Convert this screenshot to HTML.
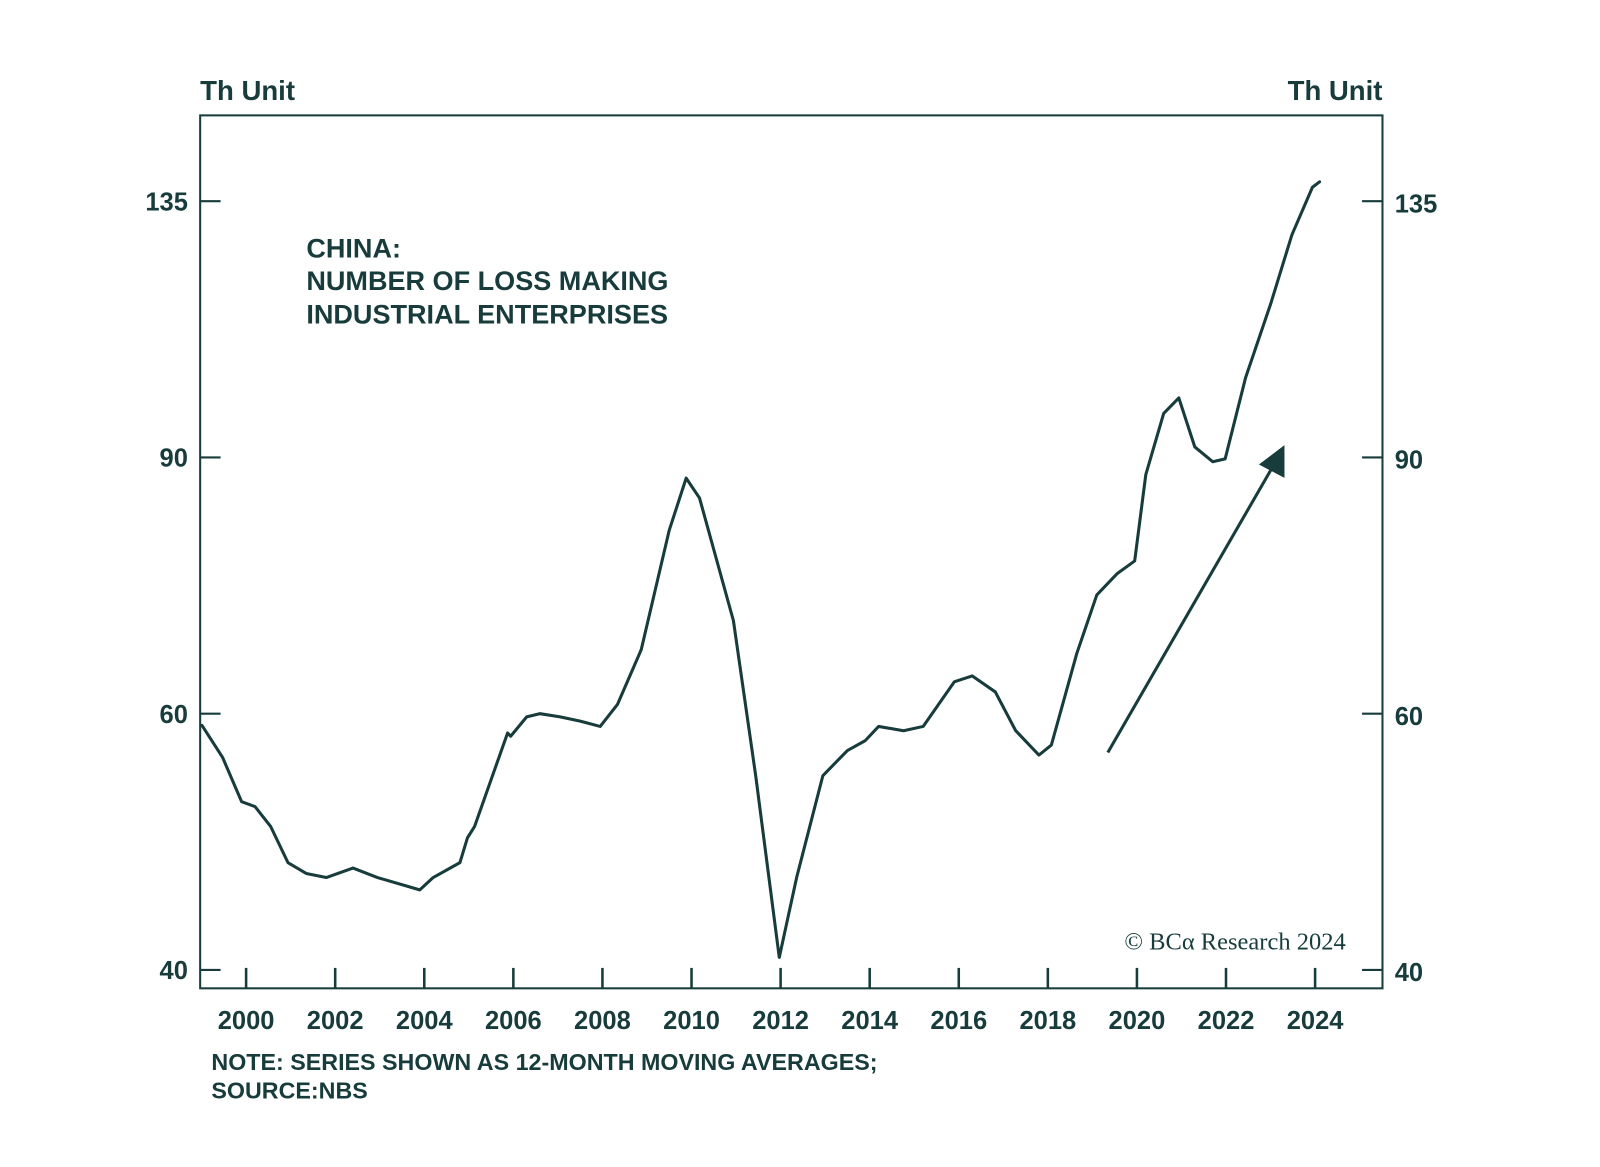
<!DOCTYPE html>
<html><head><meta charset="utf-8">
<style>
html,body{margin:0;padding:0;background:#fff;}
svg{display:block;font-family:"Liberation Sans",sans-serif;}
</style></head>
<body>
<svg id="chart" width="1600" height="1167" viewBox="0 0 1567 1143">
</svg>
<script>
const years = [1999.01,1999.47,1999.9,2000.2,2000.55,2000.94,2001.35,2001.8,2002.4,2002.95,2003.9,2004.2,2004.8,2004.97,2005.13,2005.87,2005.94,2006.3,2006.6,2007.05,2007.5,2007.95,2008.34,2008.87,2009.5,2009.88,2010.18,2010.94,2011.44,2011.97,2012.36,2012.95,2013.5,2013.9,2014.2,2014.76,2015.2,2015.9,2016.3,2016.82,2017.28,2017.8,2018.08,2018.65,2019.1,2019.56,2019.95,2020.2,2020.6,2020.94,2021.3,2021.7,2021.98,2022.44,2023.0,2023.48,2023.94,2024.1];
const values = [58.9,56.0,52.2,51.8,50.2,47.4,46.6,46.3,47.0,46.3,45.4,46.3,47.4,49.3,50.2,58.2,57.9,59.7,60.0,59.7,59.3,58.8,60.9,66.4,80.2,87.1,84.4,69.5,54.4,40.8,46.3,54.4,56.6,57.5,58.8,58.4,58.8,63.1,63.7,62.1,58.4,56.2,57.1,66.0,72.4,74.9,76.4,87.6,96.5,98.9,91.5,89.4,89.8,102.1,114.7,128,138,139.2];
const yTicks = [40,60,90,135];
const xTicks = [2000,2002,2004,2006,2008,2010,2012,2014,2016,2018,2020,2022,2024];

const C = "#173c3b";
const L = 196, R = 1354, T = 113, B = 968;
const xs = y => 241 + (y - 2000) * 43.625;
const ys = v => 950 - Math.log(v / 40) * 619;
const svg = document.getElementById('chart');
const NS = "http://www.w3.org/2000/svg";
function mk(tag, attrs, parent) {
  const e = document.createElementNS(NS, tag);
  for (const k in attrs) e.setAttribute(k, attrs[k]);
  (parent || svg).appendChild(e);
  return e;
}
function txt(x, y, s, size, anchor, weight) {
  const t = mk('text', {x, y, 'font-size': size, 'text-anchor': anchor || 'start', fill: C, 'font-weight': weight || 'bold'});
  t.textContent = s;
  return t;
}

const frame = mk('rect', {x: L, y: T, width: R - L, height: B - T, fill: 'none', stroke: C, 'stroke-width': 2});



let e = txt(196, 98, 'Th Unit', 27, 'start');


e = txt(1354, 98, 'Th Unit', 27, 'end');



yTicks.forEach(v => {
  const y = ys(v);
  let t = mk('line', {x1: L, x2: L + 20, y1: y, y2: y, stroke: C, 'stroke-width': 2});
  
  
  t = mk('line', {x1: R - 20, x2: R, y1: y, y2: y, stroke: C, 'stroke-width': 2});
  
  
  let l = txt(184, y + 9, String(v), 25, 'end');
  
  
  l = txt(1366, y + 11, String(v), 25, 'start');
  
  
});

xTicks.forEach(yr => {
  const x = xs(yr);
  const t = mk('line', {x1: x, x2: x, y1: B - 20, y2: B, stroke: C, 'stroke-width': 2.5});
  
  
  const l = txt(x, 1008, String(yr), 25, 'middle');
  
  
});

const pts = years.map((y, i) => xs(y).toFixed(1) + ',' + ys(values[i]).toFixed(1)).join(' ');
const line = mk('polyline', {points: pts, fill: 'none', stroke: C, 'stroke-width': 3, 'stroke-linejoin': 'round', 'stroke-linecap': 'round'});



const arrow = mk('line', {x1: 1085, y1: 737, x2: 1246, y2: 458, stroke: C, 'stroke-width': 3});


const head = mk('polygon', {points: '1258,436 1258,468 1233,455', fill: C});



const title = mk('text', {'font-size': 26.5, fill: C, 'font-weight': 'bold'});


[['CHINA:', 252], ['NUMBER OF LOSS MAKING', 284], ['INDUSTRIAL ENTERPRISES', 317]].forEach(([s, y]) => {
  const ts = mk('tspan', {x: 300, y}, title);
  ts.textContent = s;
});

const cr = mk('text', {x: 1318, y: 930, 'font-size': 24, 'text-anchor': 'end', fill: C, 'font-family': '"Liberation Serif",serif'});
cr.textContent = '© BCα Research 2024';



const note = mk('text', {'font-size': 22.8, fill: C, 'font-weight': 'bold'});


[['NOTE: SERIES SHOWN AS 12-MONTH MOVING AVERAGES;', 1048], ['SOURCE:NBS', 1076]].forEach(([s, y]) => {
  const ts = mk('tspan', {x: 207, y}, note);
  ts.textContent = s;
});
</script>
</body></html>
